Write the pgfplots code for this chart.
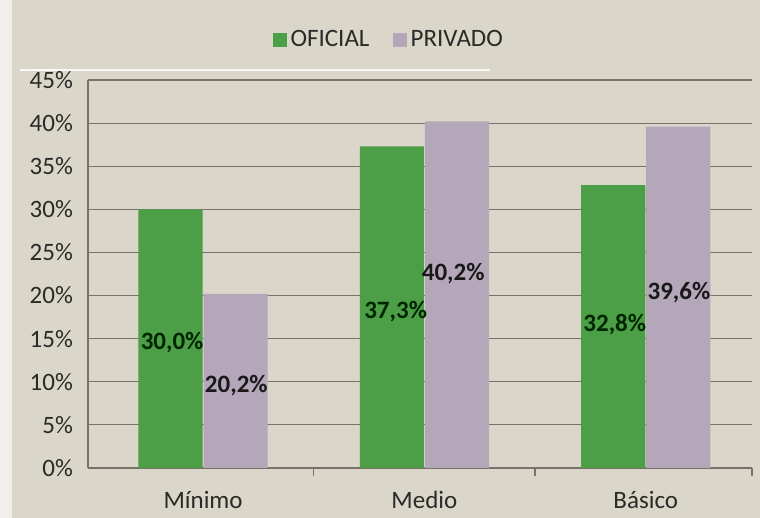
\documentclass[border=0pt]{standalone}
\usepackage{pgfplots}
\pgfplotsset{compat=1.18}
\usepackage{fontspec}
\setmainfont{Carlito}
\definecolor{bg}{HTML}{DAD6C9}
\definecolor{gOf}{HTML}{4C9E47}
\definecolor{pPr}{HTML}{B4A7B9}
\definecolor{gridc}{HTML}{77736A}
\definecolor{txt}{HTML}{2A2A28}
\begin{document}
\begin{tikzpicture}[x=1pt,y=1pt]
\fill[bg] (0,0) rectangle (380,259);
\fill[white!60!bg] (0,0) rectangle (6,259);
\draw[white!85!bg, line width=0.8pt] (10,224) -- (245,224);
\begin{axis}[
  at={(44pt,25pt)}, anchor=south west,
  scale only axis, width=332pt, height=194pt,
  xmin=-0.52, xmax=2.48, ymin=0, ymax=45,
  axis x line*=bottom, axis y line*=left,
  axis line style={gridc, line width=0.6pt},
  ytick={0,5,...,45},
  yticklabel={\pgfmathprintnumber{\tick}\%},
  /pgf/number format/assume math mode=true,
  ymajorgrids, major grid style={gridc, line width=0.6pt},
  y tick style={draw=none},
  xtick={0,1,2}, xticklabels={Mínimo,Medio,Básico},
  x tick style={draw=none},
  extra x ticks={0.5,1.5,2.48}, extra x tick labels={},
  extra x tick style={major tick length=4pt, tick align=outside, x tick style={draw=gridc, line width=0.6pt}, grid=none},
  tick label style={font=\fontsize{12.5}{14}\selectfont, text=txt},
  xticklabel style={yshift=-8pt},
  yticklabel style={xshift=-4pt},
  legend style={at={(0.455,1.103)}, anchor=center, draw=none, fill=none,
    legend columns=2, font=\fontsize{12.5}{14}\selectfont, text=txt,
    /tikz/every even column/.append style={column sep=10pt}},
  legend image code/.code={\fill[#1] (0pt,-3.3pt) rectangle (6.6pt,3.3pt);},
  clip=false,
]
\addplot[ybar, bar width=0.29, bar shift=-0.147, fill=gOf, draw=none] coordinates {(0,30.0) (1,37.3) (2,32.8)};
\addlegendentry{OFICIAL}
\addplot[ybar, bar width=0.29, bar shift=0.147, fill=pPr, draw=none] coordinates {(0,20.2) (1,40.2) (2,39.6)};
\addlegendentry{PRIVADO}
\begin{scope}[every node/.style={font=\bfseries\fontsize{12.5}{14}\selectfont}]
\node[text=black!85!green] at (axis cs:-0.14,14.5) {30,0\%};
\node[text=black!90] at (axis cs:0.15,9.6) {20,2\%};
\node[text=black!85!green] at (axis cs:0.87,18.2) {37,3\%};
\node[text=black!90] at (axis cs:1.13,22.6) {40,2\%};
\node[text=black!85!green] at (axis cs:1.86,16.6) {32,8\%};
\node[text=black!90] at (axis cs:2.15,20.3) {39,6\%};
\end{scope}
\end{axis}
\end{tikzpicture}
\end{document}
